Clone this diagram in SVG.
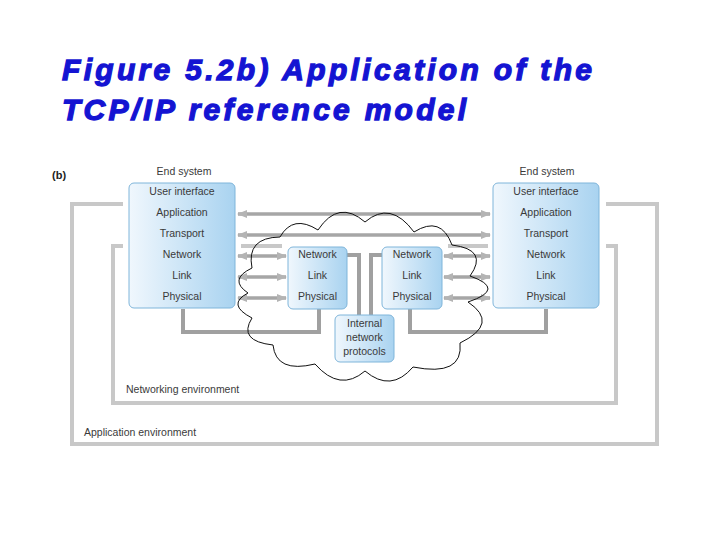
<svg xmlns="http://www.w3.org/2000/svg" width="720" height="540" viewBox="0 0 720 540">
<style>
.title{font-family:"Liberation Sans",Arial,sans-serif;font-weight:bold;font-style:italic;font-size:30px;fill:#1414d2;stroke:#1414d2;stroke-width:1.3}
.lbl{font-family:"Liberation Sans",Arial,sans-serif;font-size:10.5px;fill:#3a3a3a;text-anchor:middle}
.env{font-family:"Liberation Sans",Arial,sans-serif;font-size:10.5px;fill:#3a3a3a}
.box{fill:url(#bg);stroke:#7fb5da;stroke-width:1}
.envline{fill:none;stroke:#c8c8c8;stroke-width:4}
.link{fill:none;stroke:#a0a0a0;stroke-width:4}
.arr{fill:none;stroke:#a6a6a6;stroke-width:3.5;marker-start:url(#ah);marker-end:url(#ah)}
.cloud{fill:none;stroke:#111;stroke-width:1}
</style>
<defs>
<linearGradient id="bg" x1="0" y1="0" x2="1" y2="0">
<stop offset="0" stop-color="#f0f7fd"/>
<stop offset="1" stop-color="#a9d3f0"/>
</linearGradient>
<marker id="ah" viewBox="0 0 10 8" refX="9" refY="4" markerWidth="10" markerHeight="8" markerUnits="userSpaceOnUse" orient="auto-start-reverse">
<path d="M0,0 L10,4 L0,8 z" fill="#b4b4b4"/>
</marker>
</defs>
<rect width="720" height="540" fill="#fff"/>
<text class="title" x="62" y="80" textLength="530" lengthAdjust="spacing">Figure 5.2b) Application of the</text>
<text class="title" x="62" y="120" textLength="404" lengthAdjust="spacing">TCP/IP reference model</text>
<text x="52" y="179" font-family="Liberation Sans,Arial,sans-serif" font-weight="bold" font-size="11" fill="#222">(b)</text>

<g id="application-environment">
<path class="envline" d="M123,204 H72 V444 H657 V204 H606"/>
<text class="env" x="84" y="436">Application environment</text>
</g>
<g id="networking-environment">
<path class="envline" d="M123,246 H113 V403 H616 V246 H606"/>
<path class="envline" d="M241,246 H282 M448,246 H488"/>
<text class="env" x="126" y="393">Networking environment</text>
</g>

<g id="connectors">
<path class="link" d="M183,309 V332 H319 V309"/>
<path class="link" d="M410,309 V332 H546 V309"/>
<path class="link" d="M347,255 H359 V315"/>
<path class="link" d="M382,255 H371 V315"/>
<path class="arr" d="M238,214 H490"/>
<path class="arr" d="M238,235 H490"/>
<path class="arr" d="M238,256 H286"/>
<path class="arr" d="M238,277 H286"/>
<path class="arr" d="M238,298 H286"/>
<path class="arr" d="M444,256 H490"/>
<path class="arr" d="M444,277 H490"/>
<path class="arr" d="M444,298 H490"/>
</g>

<g id="cloud">
<path class="cloud" d="M365,222 Q390.5,200 414,232 Q441,215 452,245 Q489,249.5 470,276 Q507,289 468,302 Q500,323.5 460,343 Q463.5,377 413,367 Q391,393 365,371 Q340,392.5 315,364 Q276,373.5 273,345 Q237.5,341 252,318 Q226,304.5 248,293 Q228,279.5 252,268 Q246,237.5 280,237 Q293,214 318,230 Q338.5,199 365,222 Z"/>
</g>

<g id="end-system-left">
<text class="lbl" x="184" y="175">End system</text>
<rect class="box" x="129" y="183" width="106" height="125" rx="5"/>
<text class="lbl" x="182" y="195">User interface</text>
<text class="lbl" x="182" y="216">Application</text>
<text class="lbl" x="182" y="237">Transport</text>
<text class="lbl" x="182" y="258">Network</text>
<text class="lbl" x="182" y="279">Link</text>
<text class="lbl" x="182" y="300">Physical</text>
</g>

<g id="end-system-right">
<text class="lbl" x="547" y="175">End system</text>
<rect class="box" x="493" y="183" width="106" height="125" rx="5"/>
<text class="lbl" x="546" y="195">User interface</text>
<text class="lbl" x="546" y="216">Application</text>
<text class="lbl" x="546" y="237">Transport</text>
<text class="lbl" x="546" y="258">Network</text>
<text class="lbl" x="546" y="279">Link</text>
<text class="lbl" x="546" y="300">Physical</text>
</g>

<g id="router-left">
<rect class="box" x="288" y="247" width="59" height="62" rx="5"/>
<text class="lbl" x="317.5" y="258">Network</text>
<text class="lbl" x="317.5" y="279">Link</text>
<text class="lbl" x="317.5" y="300">Physical</text>
</g>

<g id="router-right">
<rect class="box" x="382" y="247" width="60" height="62" rx="5"/>
<text class="lbl" x="412" y="258">Network</text>
<text class="lbl" x="412" y="279">Link</text>
<text class="lbl" x="412" y="300">Physical</text>
</g>

<g id="internal-protocols">
<rect class="box" x="335" y="315" width="59" height="47" rx="5"/>
<text class="lbl" x="364.5" y="327">Internal</text>
<text class="lbl" x="364.5" y="341">network</text>
<text class="lbl" x="364.5" y="355">protocols</text>
</g>
</svg>
